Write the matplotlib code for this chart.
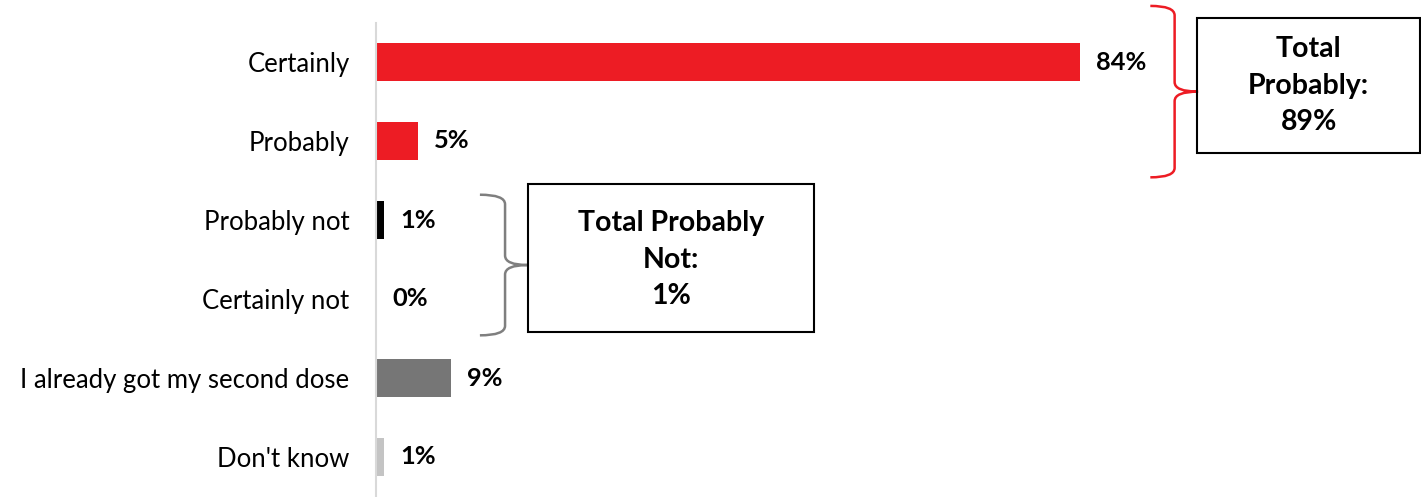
import matplotlib.pyplot as plt
from matplotlib.path import Path
from matplotlib.patches import PathPatch, Rectangle

plt.rcParams['font.family'] = ['Lato', 'DejaVu Sans']

categories = ['Certainly', 'Probably', 'Probably not', 'Certainly not',
              'I already got my second dose', "Don't know"]
values = [84, 5, 1, 0, 9, 1]
labels = ['84%', '5%', '1%', '0%', '9%', '1%']
colors = ['#ED1C24', '#ED1C24', '#000000', '#000000', '#767676', '#C4C4C4']

total_probably = '89%'
total_not = '1%'


def brace(ax, x0, x1, x2, ytop, ybot, color):
    # right-facing curly brace, in data coords
    ymid = (ytop + ybot) / 2
    ry = 0.12
    verts = [(x0, ytop), (x1, ytop), (x1, ytop + ry),
             (x1, ymid - ry), (x1, ymid), (x2, ymid),
             (x1, ymid), (x1, ymid + ry),
             (x1, ybot - ry), (x1, ybot), (x0, ybot)]
    codes = [Path.MOVETO, Path.CURVE3, Path.CURVE3,
             Path.LINETO, Path.CURVE3, Path.CURVE3,
             Path.CURVE3, Path.CURVE3,
             Path.LINETO, Path.CURVE3, Path.CURVE3]
    ax.add_patch(PathPatch(Path(verts, codes), fill=False, edgecolor=color,
                           lw=1.8, clip_on=False))


fig = plt.figure(figsize=(14.21, 4.97), dpi=100)
ax = fig.add_axes([376 / 1421, 0.5 / 497, 1045 / 1421, 474 / 497])

y = range(len(categories))
ax.barh(y, values, height=0.49, color=colors)
for i, v in enumerate(values):
    ax.annotate(labels[i], (v, i), xytext=(16, 0), textcoords='offset pixels',
                va='center', ha='left', fontsize=18.3, fontweight='bold')

ax.set_xlim(0, 124.7)
ax.set_ylim(5.5, -0.5)
ax.set_yticks(list(y))
ax.set_yticklabels(categories, fontsize=18.5)
ax.tick_params(axis='y', length=0, pad=19)
ax.set_xticks([])
for s in ['top', 'right', 'bottom']:
    ax.spines[s].set_visible(False)
ax.spines['left'].set_color('#D9D9D9')
ax.spines['left'].set_linewidth(1.5)

# red brace + box
brace(ax, 92.4, 95.3, 98.1, -0.71, 1.46, '#ED1C24')
ax.add_patch(Rectangle((98.0, -0.557), 26.6, 1.709, fill=False,
                       edgecolor='black', lw=1.5, clip_on=False))
ax.text(111.3, 0.30, 'Total\nProbably:\n' + total_probably, ha='center',
        va='center', fontsize=20.5, fontweight='bold', linespacing=1.5)

# gray brace + box
brace(ax, 12.4, 15.4, 18.1, 1.68, 3.46, '#7F7F7F')
ax.add_patch(Rectangle((18.1, 1.544), 34.2, 1.874, fill=False,
                       edgecolor='black', lw=1.5, clip_on=False))
ax.text(35.2, 2.50, 'Total Probably\nNot:\n' + total_not, ha='center',
        va='center', fontsize=20.5, fontweight='bold', linespacing=1.5)

fig.savefig('out.png', dpi=100)
